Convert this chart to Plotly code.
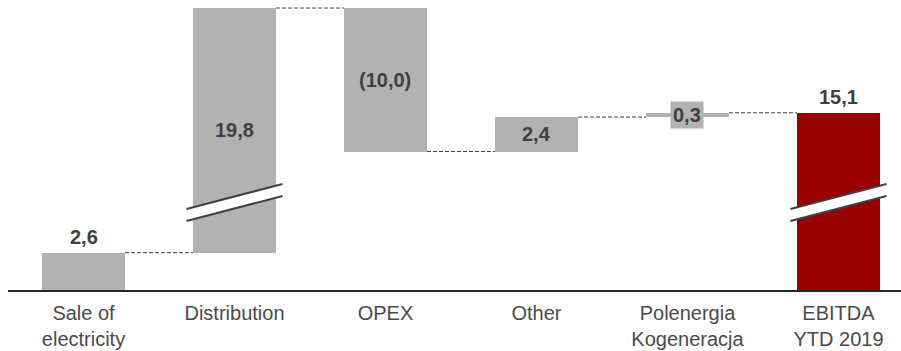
import plotly.graph_objects as go

# Waterfall data (EUR m)
categories = ["Sale of<br>electricity", "Distribution", "OPEX", "Other",
              "Polenergia<br>Kogeneracja", "EBITDA<br>YTD 2019"]
deltas = [2.6, 19.8, -10.0, 2.4, 0.3]
total = 15.1
value_labels = ["2,6", "19,8", "(10,0)", "2,4", "0,3", "15,1"]

# Amount cut out of the tall bars by the axis break
BREAK_CUT = 2.75
BREAK_AT = 6.1          # display level where the break marker sits

GREY = "#b2b2b2"
RED = "#990000"
TEXT = "#404040"

# running levels
levels = [0.0]
for d in deltas:
    levels.append(levels[-1] + d)


def disp(v):
    """Map a value to the display scale (values above the break are shifted)."""
    return v - BREAK_CUT if v > BREAK_AT + BREAK_CUT else v


bases, heights, colors = [], [], []
for i, d in enumerate(deltas):
    lo, hi = sorted((levels[i], levels[i + 1]))
    bases.append(disp(lo))
    heights.append(disp(hi) - disp(lo))
    colors.append(GREY)
bases.append(0.0)
heights.append(disp(total))
colors.append(RED)

xs = list(range(len(categories)))
BAR_W = 0.55

fig = go.Figure()
fig.add_trace(go.Bar(
    x=xs, y=heights, base=bases, width=BAR_W,
    marker=dict(color=colors, line=dict(width=0)),
    hoverinfo="skip", showlegend=False,
))

shapes = []
annotations = []

# dashed connectors between consecutive bars
tops = [disp(v) for v in levels[1:]]
for i in range(len(deltas)):
    y = tops[i]
    shapes.append(dict(type="line", xref="x", yref="y",
                       x0=i + BAR_W / 2, x1=i + 1 - BAR_W / 2, y0=y, y1=y,
                       line=dict(color=TEXT, width=1, dash="4px,2px")))

# axis-break markers on the tall bars
def break_marker(xc):
    half = 0.318
    rise = 0.87      # vertical rise across the marker
    gap = 0.42       # half-thickness of the white band
    yl, yr = BREAK_AT - rise, BREAK_AT + rise
    path = (f"M {xc - half},{yl + gap} L {xc + half},{yr + gap} "
            f"L {xc + half},{yr - gap} L {xc - half},{yl - gap} Z")
    shapes.append(dict(type="path", xref="x", yref="y", path=path,
                       fillcolor="white", line=dict(width=0)))
    for s in (gap, -gap):
        shapes.append(dict(type="line", xref="x", yref="y",
                           x0=xc - half, y0=yl + s, x1=xc + half, y1=yr + s,
                           line=dict(color=TEXT, width=2)))

break_marker(1)
break_marker(5)

label_font = dict(family="Liberation Sans, Arial, sans-serif", size=20,
                  color=TEXT)

for i, txt in enumerate(value_labels):
    b, h = bases[i], heights[i]
    if i in (0, 5):
        annotations.append(dict(x=i, y=b + h, xref="x", yref="y",
                                text=f"<b>{txt}</b>", showarrow=False,
                                yanchor="bottom", yshift=3, font=label_font))
    elif i == 4:
        annotations.append(dict(x=i, y=b + h / 2, xref="x", yref="y",
                                text=f"<b>{txt}</b>", showarrow=False,
                                yanchor="middle", bgcolor=GREY, borderpad=2,
                                font=label_font))
    else:
        annotations.append(dict(x=i, y=b + h / 2, xref="x", yref="y",
                                text=f"<b>{txt}</b>", showarrow=False,
                                yanchor="middle", font=label_font))

fig.update_layout(
    width=901, height=351,
    margin=dict(l=8, r=0, t=0, b=61),
    paper_bgcolor="white", plot_bgcolor="white",
    shapes=shapes, annotations=annotations,
    xaxis=dict(
        range=[-0.5, 5.414], tickmode="array", tickvals=xs,
        ticktext=categories, showgrid=False, zeroline=False,
        showline=True, linecolor="#262626", linewidth=2, ticks="",
        ticklabelstandoff=4,
        tickfont=dict(family="Liberation Sans, Arial, sans-serif", size=20,
                      color="#4a4a4a"),
    ),
    yaxis=dict(range=[0, 290 / 14.35], visible=False, showgrid=False,
               zeroline=False),
    bargap=0,
)

fig.write_html("out.html")
